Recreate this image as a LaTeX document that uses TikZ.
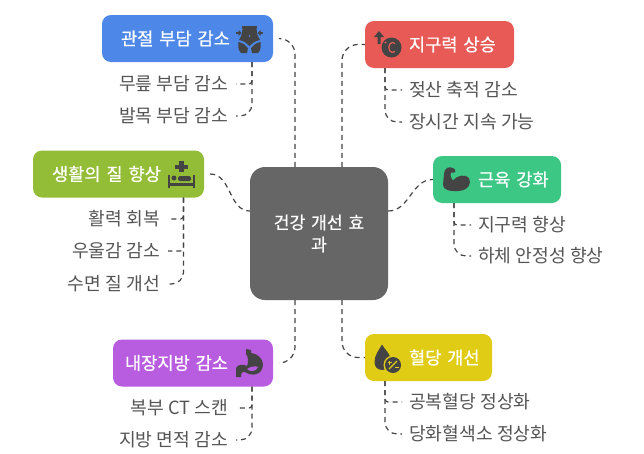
\documentclass[tikz,border=0pt]{standalone}
\usepackage{fontspec}
\setmainfont{Noto Sans CJK KR}
\newfontfamily\topicfont[FakeBold=0.6]{Noto Sans CJK KR}
\usetikzlibrary{calc}
\usetikzlibrary{positioning}
\definecolor{jointblue}{HTML}{4D88E8}
\definecolor{heatred}{HTML}{E85A55}
\definecolor{musclegreen}{HTML}{3CC785}
\definecolor{lifegreen}{HTML}{94BD37}
\definecolor{fatpurple}{HTML}{B85CE0}
\definecolor{sugaryellow}{HTML}{E0CC14}
\definecolor{coregray}{HTML}{666666}
\definecolor{inkgray}{HTML}{444444}
\definecolor{leafgray}{HTML}{555555}
\begin{document}
\begin{tikzpicture}[x=1pt, y=-1pt,
      core/.style={fill=coregray, text=white, rounded corners=15pt, minimum width=138pt, minimum height=133pt,
        inner sep=0pt, text width=100pt, align=center, font=\topicfont\fontsize{17.2}{22}\selectfont},
      topic/.style={text=white, rounded corners=9pt, minimum height=47pt, inner sep=0pt, align=left,
        font=\topicfont\fontsize{17.6}{20}\selectfont},
      leaf/.style={text=leafgray, inner sep=0pt, font=\fontsize{18.2}{20}\selectfont},
      link/.style={draw=inkgray, line width=1.2pt, dash pattern=on 5pt off 4pt},
      icon/.style={fill=inkgray, draw=none}]
      \useasboundingbox (0,0) rectangle (644,453);
      \fill[white] (0,0) rectangle (644,453);
      % Centre
      \node[core] (center) at (319,233.5) {건강 개선 효\\과};
      % Topics
      \node[topic, fill=jointblue, text width=171pt] (joint) at (187.5,38.5) {\hspace*{19pt}관절 부담 감소};
      \node[topic, fill=heatred, text width=149pt] (endurance) at (439.5,44.5) {\hspace*{44pt}지구력 상승};
      \node[topic, fill=musclegreen, text width=128pt] (muscle) at (497,179.5) {\hspace*{45pt}근육 강화};
      \node[topic, fill=lifegreen, text width=171pt] (life) at (118.5,174) {\hspace*{19pt}생활의 질 향상};
      \node[topic, fill=fatpurple, text width=160pt] (fat) at (193,363) {\hspace*{12pt}내장지방 감소};
      \node[topic, fill=sugaryellow, text width=127pt] (sugar) at (428.5,357.5) {\hspace*{44pt}혈당 개선};
      % Leaves
      \node[leaf, anchor=east] (knee) at (228,84) {무릎 부담 감소};
      \node[leaf, anchor=east] (ankle) at (228,116) {발목 부담 감소};
      \node[leaf, anchor=west] (lactate) at (409,90) {젖산 축적 감소};
      \node[leaf, anchor=west] (longrun) at (409,122) {장시간 지속 가능};
      \node[leaf, anchor=west] (stamina) at (478,225) {지구력 향상};
      \node[leaf, anchor=west] (stability) at (478,256) {하체 안정성 향상};
      \node[leaf, anchor=east] (vigor) at (160,219) {활력 회복};
      \node[leaf, anchor=east] (mood) at (160,251) {우울감 감소};
      \node[leaf, anchor=east] (sleep) at (160,284) {수면 질 개선};
      \node[leaf, anchor=east] (belly) at (228,408) {복부 CT 스캔};
      \node[leaf, anchor=east] (area) at (228,440) {지방 면적 감소};
      \node[leaf, anchor=west] (fasting) at (409,402) {공복혈당 정상화};
      \node[leaf, anchor=west] (hba) at (409,434) {당화혈색소 정상화};
      % Centre to topics
      \draw[link, rounded corners=16pt] ([xshift=-24pt]center.north) |- ([xshift=6pt]joint.east);
      \draw[link, rounded corners=16pt] ([xshift=23pt]center.north) |- (endurance.west);
      \draw[link, rounded corners=16pt] ([xshift=-24pt]center.south) |- ([xshift=6pt]fat.east);
      \draw[link, rounded corners=16pt] ([xshift=23pt]center.south) |- (sugar.west);
      \draw[link] ([yshift=22.5pt]center.east) to[out=0, in=180] (muscle.west);
      \draw[link] ([xshift=6pt]life.east) to[out=0, in=180] ([yshift=22.5pt]center.west);
      % Topics to leaves
      \draw[link, rounded corners=3pt] ([xshift=64.5pt]joint.south) |- ([xshift=8pt]knee.east);
      \draw[link, rounded corners=12pt] ([xshift=64.5pt]joint.south) |- ([xshift=8pt]ankle.east);
      \draw[link, rounded corners=3pt] ([xshift=-54.5pt]endurance.south) |- ([xshift=-7pt]lactate.west);
      \draw[link, rounded corners=12pt] ([xshift=-54.5pt]endurance.south) |- ([xshift=-7pt]longrun.west);
      \draw[link, rounded corners=3pt] ([xshift=-43pt]muscle.south) |- ([xshift=-7pt]stamina.west);
      \draw[link, rounded corners=12pt] ([xshift=-43pt]muscle.south) |- ([xshift=-7pt]stability.west);
      \draw[link, rounded corners=3pt] ([xshift=65pt]life.south) |- ([xshift=8pt]vigor.east);
      \draw[link, rounded corners=3pt] ([xshift=65pt]life.south) |- ([xshift=8pt]mood.east);
      \draw[link, rounded corners=12pt] ([xshift=65pt]life.south) |- ([xshift=8pt]sleep.east);
      \draw[link, rounded corners=3pt] ([xshift=59pt]fat.south) |- ([xshift=8pt]belly.east);
      \draw[link, rounded corners=12pt] ([xshift=59pt]fat.south) |- ([xshift=8pt]area.east);
      \draw[link, rounded corners=3pt] ([xshift=-43.5pt]sugar.south) |- ([xshift=-7pt]fasting.west);
      \draw[link, rounded corners=12pt] ([xshift=-43.5pt]sugar.south) |- ([xshift=-7pt]hba.west);
      % Icon: waist
      \fill[icon] (242,26) -- (257,26) .. controls (256,31) and (257,35) .. (260,40) .. controls (255,41) and (252,43) .. (249.5,46) .. controls (247,43) and (244,41) .. (239,40) .. controls (242,35) and (243,31) .. (242,26) -- cycle;
      \fill[jointblue] (249.5,36) circle (0.9);
      \fill[icon] (238.5,42) .. controls (243,43) and (246,45) .. (248,48) -- (247,53) -- (241,53) .. controls (238,50) and (238,46) .. (238.5,42) -- cycle;
      \fill[icon] (260.5,42) .. controls (256,43) and (253,45) .. (251,48) -- (252,53) -- (258,53) .. controls (261,50) and (261,46) .. (260.5,42) -- cycle;
      \fill[icon] (236,32) rectangle (239,34);
      \fill[icon] (238.5,30) -- (241.5,33) -- (238.5,36) -- cycle;
      \fill[icon] (260,32) rectangle (263,34);
      \fill[icon] (260.5,30) -- (257.5,33) -- (260.5,36) -- cycle;
      % Icon: bed
      \fill[icon] (179,161) rectangle (183.5,172);
      \fill[icon] (175,164.5) rectangle (187.5,168.5);
      \fill[icon] (167.5,175) rectangle (169.5,188);
      \fill[icon] (193,175) rectangle (195,188);
      \fill[icon] (169,183) rectangle (193,186);
      \fill[icon] (174,178) circle (2.5);
      \fill[icon, rounded corners=1.5pt] (178,176) rectangle (191,181);
      % Icon: temperature
      \fill[icon] (379,31) -- (384,37) -- (380.5,37) -- (380.5,44) -- (377.5,44) -- (377.5,37) -- (374,37) -- cycle;
      \fill[icon] (391.5,47.5) circle (10);
      \draw[heatred, line width=1.2pt] (395,51.3) arc (50:310:3.8 and 5);
      \fill[heatred] (385.5,42.5) circle (1.1);
      % Icon: muscle
      \fill[icon] (444,174) .. controls (444,168) and (449,166) .. (453,168) .. controls (457,170) and (456,174) .. (451,172.5) .. controls (450,176) and (451,179) .. (453,180.5) .. controls (457,175) and (466,174) .. (469,178) .. controls (472,184) and (468,190.5) .. (458,191) .. controls (450,191.5) and (443,190) .. (443,185) -- cycle;
      % Icon: stomach
      \fill[icon] (246,349) -- (251,350) -- (251,353) .. controls (260,354) and (265,362) .. (262,369) .. controls (259,376) and (250,376) .. (245,372) .. controls (243,371) and (241,372) .. (241,377) -- (236,377) -- (236,368) .. controls (238,364) and (243,364) .. (247,366) .. controls (249,362) and (248,356) .. (246,354) -- cycle;
      \fill[fatpurple] (247,369) .. controls (251,366) and (256,366) .. (258,367) .. controls (256,372) and (250,372) .. (247,369) -- cycle;
      % Icon: drop with percent
      \fill[icon] (382,344.5) .. controls (385,350) and (391,354) .. (391,361) .. controls (391,367) and (386,370) .. (382,370) .. controls (377,370) and (374.5,366) .. (374.5,362) .. controls (374.5,355) and (379,350) .. (382,344.5) -- cycle;
      \fill[sugaryellow] (393,365) circle (9.5);
      \fill[icon] (393,365) circle (8);
      \draw[sugaryellow, line width=1.2pt] (389,369) -- (397,361);
      \draw[sugaryellow, line width=1.2pt] (387.5,362.5) -- (391.5,362.5) (389.5,360.5) -- (389.5,364.5);
      \draw[sugaryellow, line width=1.2pt] (394.5,367.5) -- (398.5,367.5);
    \end{tikzpicture}
\end{document}
